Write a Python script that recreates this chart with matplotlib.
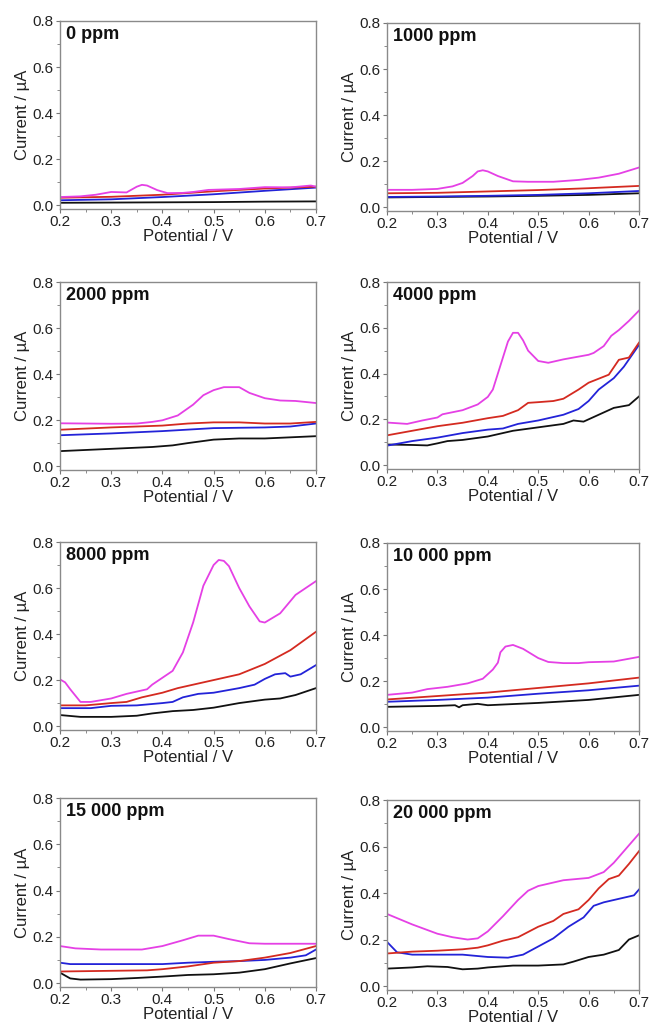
import matplotlib
matplotlib.use('Agg')
import matplotlib.pyplot as plt
from matplotlib.ticker import MultipleLocator

plt.rcParams['font.family'] = ['Liberation Sans', 'DejaVu Sans']

# (potential V, current uA) points for each scan in every panel
P0_BLACK = [(0.20, 0.010), (0.30, 0.011), (0.40, 0.012), (0.50, 0.013), (0.60, 0.015), (0.70, 0.016)]
P0_BLUE = [(0.20, 0.021), (0.30, 0.025), (0.40, 0.035), (0.50, 0.047), (0.60, 0.062), (0.70, 0.076)]
P0_RED = [(0.20, 0.032), (0.30, 0.036), (0.40, 0.045), (0.50, 0.060), (0.60, 0.072), (0.70, 0.080)]
P0_MAG = [(0.20, 0.035), (0.24, 0.038), (0.27, 0.045), (0.30, 0.057), (0.33, 0.055), (0.35, 0.080),
          (0.36, 0.088), (0.37, 0.085), (0.39, 0.065), (0.41, 0.052), (0.44, 0.053), (0.46, 0.057),
          (0.49, 0.066), (0.55, 0.070), (0.60, 0.078), (0.65, 0.077), (0.69, 0.085), (0.70, 0.080)]

P1000_BLACK = [(0.20, 0.042), (0.30, 0.044), (0.40, 0.046), (0.50, 0.049), (0.60, 0.053), (0.70, 0.060)]
P1000_BLUE = [(0.20, 0.044), (0.30, 0.046), (0.40, 0.049), (0.50, 0.053), (0.60, 0.060), (0.70, 0.070)]
P1000_RED = [(0.20, 0.060), (0.30, 0.062), (0.40, 0.068), (0.50, 0.074), (0.60, 0.082), (0.70, 0.092)]
P1000_MAG = [(0.20, 0.075), (0.25, 0.075), (0.30, 0.079), (0.33, 0.090), (0.35, 0.105), (0.37, 0.135),
             (0.38, 0.155), (0.39, 0.160), (0.40, 0.155), (0.42, 0.135), (0.45, 0.112), (0.48, 0.110),
             (0.53, 0.110), (0.58, 0.118), (0.62, 0.128), (0.66, 0.145), (0.70, 0.172)]

P2000_BLACK = [(0.20, 0.065), (0.30, 0.075), (0.38, 0.083), (0.42, 0.090), (0.45, 0.100), (0.50, 0.115),
               (0.55, 0.120), (0.60, 0.120), (0.65, 0.125), (0.70, 0.130)]
P2000_BLUE = [(0.20, 0.134), (0.30, 0.142), (0.40, 0.152), (0.50, 0.165), (0.60, 0.168), (0.65, 0.172),
              (0.70, 0.185)]
P2000_RED = [(0.20, 0.158), (0.30, 0.168), (0.40, 0.176), (0.45, 0.185), (0.50, 0.190), (0.55, 0.190),
             (0.60, 0.185), (0.65, 0.185), (0.70, 0.192)]
P2000_MAG = [(0.20, 0.186), (0.30, 0.184), (0.35, 0.185), (0.38, 0.192), (0.40, 0.199), (0.43, 0.220),
             (0.46, 0.267), (0.48, 0.308), (0.50, 0.330), (0.52, 0.343), (0.55, 0.343), (0.57, 0.318),
             (0.60, 0.295), (0.63, 0.285), (0.66, 0.283), (0.70, 0.274)]

P4000_BLACK = [(0.20, 0.090), (0.25, 0.088), (0.28, 0.086), (0.30, 0.095), (0.32, 0.105), (0.35, 0.110),
               (0.40, 0.125), (0.45, 0.150), (0.50, 0.165), (0.55, 0.180), (0.57, 0.195), (0.59, 0.190),
               (0.61, 0.210), (0.65, 0.250), (0.68, 0.262), (0.70, 0.300)]
P4000_BLUE = [(0.20, 0.085), (0.25, 0.105), (0.30, 0.120), (0.35, 0.140), (0.40, 0.155), (0.43, 0.160),
              (0.46, 0.180), (0.50, 0.195), (0.55, 0.220), (0.58, 0.245), (0.60, 0.280), (0.62, 0.330),
              (0.65, 0.380), (0.67, 0.430), (0.70, 0.525)]
P4000_RED = [(0.20, 0.130), (0.30, 0.170), (0.35, 0.185), (0.40, 0.205), (0.43, 0.215), (0.46, 0.240),
             (0.48, 0.272), (0.50, 0.275), (0.53, 0.280), (0.55, 0.290), (0.58, 0.330), (0.60, 0.360),
             (0.64, 0.395), (0.66, 0.460), (0.68, 0.470), (0.70, 0.535)]
P4000_MAG = [(0.20, 0.186), (0.24, 0.180), (0.27, 0.195), (0.30, 0.208), (0.31, 0.222), (0.35, 0.240),
             (0.38, 0.265), (0.40, 0.298), (0.41, 0.330), (0.42, 0.400), (0.43, 0.470), (0.44, 0.540),
             (0.45, 0.578), (0.46, 0.578), (0.47, 0.545), (0.48, 0.500), (0.50, 0.455), (0.52, 0.447),
             (0.55, 0.462), (0.60, 0.482), (0.61, 0.490), (0.63, 0.520), (0.645, 0.565), (0.66, 0.590),
             (0.68, 0.630), (0.70, 0.675)]

P8000_BLACK = [(0.20, 0.048), (0.24, 0.040), (0.30, 0.040), (0.35, 0.045), (0.38, 0.055), (0.42, 0.065),
               (0.46, 0.070), (0.50, 0.080), (0.55, 0.100), (0.60, 0.115), (0.63, 0.120), (0.66, 0.135),
               (0.70, 0.165)]
P8000_BLUE = [(0.20, 0.078), (0.26, 0.078), (0.30, 0.088), (0.35, 0.090), (0.40, 0.100), (0.42, 0.105),
              (0.44, 0.125), (0.47, 0.140), (0.50, 0.145), (0.55, 0.165), (0.58, 0.180), (0.60, 0.205),
              (0.62, 0.225), (0.64, 0.230), (0.65, 0.215), (0.67, 0.225), (0.70, 0.265)]
P8000_RED = [(0.20, 0.090), (0.25, 0.090), (0.30, 0.100), (0.33, 0.105), (0.36, 0.125), (0.40, 0.145),
             (0.43, 0.165), (0.46, 0.180), (0.50, 0.200), (0.55, 0.225), (0.60, 0.270), (0.65, 0.330),
             (0.70, 0.410)]
P8000_MAG = [(0.20, 0.203), (0.21, 0.190), (0.22, 0.160), (0.24, 0.105), (0.26, 0.105), (0.30, 0.120),
             (0.33, 0.140), (0.37, 0.160), (0.38, 0.180), (0.40, 0.210), (0.42, 0.240), (0.44, 0.320),
             (0.46, 0.450), (0.48, 0.610), (0.50, 0.700), (0.51, 0.722), (0.52, 0.718), (0.53, 0.695),
             (0.55, 0.600), (0.57, 0.520), (0.59, 0.455), (0.60, 0.450), (0.63, 0.490), (0.66, 0.570),
             (0.68, 0.600), (0.70, 0.630)]

P10000_BLACK = [(0.20, 0.088), (0.30, 0.092), (0.335, 0.095), (0.343, 0.086), (0.35, 0.095), (0.38, 0.101),
                (0.40, 0.095), (0.50, 0.105), (0.60, 0.118), (0.70, 0.140)]
P10000_BLUE = [(0.20, 0.110), (0.30, 0.118), (0.40, 0.128), (0.50, 0.145), (0.60, 0.160), (0.70, 0.180)]
P10000_RED = [(0.20, 0.120), (0.30, 0.135), (0.40, 0.150), (0.50, 0.170), (0.60, 0.190), (0.70, 0.215)]
P10000_MAG = [(0.20, 0.140), (0.25, 0.150), (0.28, 0.165), (0.32, 0.175), (0.36, 0.190), (0.39, 0.210),
              (0.41, 0.250), (0.42, 0.280), (0.425, 0.325), (0.435, 0.350), (0.45, 0.357), (0.47, 0.340),
              (0.50, 0.300), (0.52, 0.283), (0.55, 0.278), (0.58, 0.278), (0.60, 0.282), (0.65, 0.285),
              (0.70, 0.305)]

P15000_BLACK = [(0.20, 0.045), (0.22, 0.020), (0.24, 0.015), (0.30, 0.017), (0.35, 0.022), (0.40, 0.028),
                (0.45, 0.035), (0.50, 0.038), (0.55, 0.045), (0.60, 0.060), (0.65, 0.085), (0.70, 0.108)]
P15000_BLUE = [(0.20, 0.088), (0.22, 0.082), (0.30, 0.082), (0.40, 0.082), (0.45, 0.088), (0.50, 0.092),
               (0.55, 0.095), (0.60, 0.100), (0.65, 0.110), (0.68, 0.120), (0.70, 0.145)]
P15000_RED = [(0.20, 0.050), (0.30, 0.053), (0.37, 0.055), (0.40, 0.060), (0.45, 0.072), (0.50, 0.088),
              (0.55, 0.095), (0.60, 0.110), (0.65, 0.130), (0.70, 0.160)]
P15000_MAG = [(0.20, 0.160), (0.23, 0.150), (0.28, 0.145), (0.36, 0.145), (0.40, 0.160), (0.44, 0.185),
              (0.47, 0.205), (0.50, 0.205), (0.53, 0.190), (0.57, 0.172), (0.60, 0.170), (0.70, 0.170)]

P20000_BLACK = [(0.20, 0.075), (0.25, 0.080), (0.28, 0.085), (0.32, 0.082), (0.35, 0.072), (0.38, 0.075),
                (0.40, 0.080), (0.45, 0.088), (0.50, 0.088), (0.55, 0.093), (0.57, 0.105), (0.60, 0.125),
                (0.63, 0.135), (0.66, 0.155), (0.68, 0.200), (0.70, 0.218)]
P20000_BLUE = [(0.20, 0.190), (0.22, 0.145), (0.25, 0.135), (0.30, 0.135), (0.35, 0.135), (0.40, 0.125),
               (0.44, 0.122), (0.47, 0.135), (0.50, 0.170), (0.53, 0.205), (0.56, 0.255), (0.59, 0.295),
               (0.61, 0.345), (0.63, 0.360), (0.66, 0.375), (0.69, 0.390), (0.70, 0.415)]
P20000_RED = [(0.20, 0.140), (0.25, 0.148), (0.30, 0.152), (0.35, 0.158), (0.38, 0.165), (0.40, 0.175),
              (0.43, 0.195), (0.46, 0.210), (0.50, 0.255), (0.53, 0.280), (0.55, 0.310), (0.58, 0.330),
              (0.60, 0.370), (0.62, 0.420), (0.64, 0.460), (0.66, 0.475), (0.68, 0.525), (0.70, 0.580)]
P20000_MAG = [(0.20, 0.310), (0.25, 0.265), (0.30, 0.225), (0.33, 0.210), (0.36, 0.200), (0.38, 0.205),
              (0.40, 0.235), (0.43, 0.300), (0.46, 0.370), (0.48, 0.410), (0.50, 0.430), (0.55, 0.455),
              (0.60, 0.465), (0.63, 0.490), (0.65, 0.530), (0.70, 0.655)]

labels = ['0 ppm', '1000 ppm', '2000 ppm', '4000 ppm',
          '8000 ppm', '10 000 ppm', '15 000 ppm', '20 000 ppm']
panels = [
    [P0_BLACK, P0_BLUE, P0_RED, P0_MAG],
    [P1000_BLACK, P1000_BLUE, P1000_RED, P1000_MAG],
    [P2000_BLACK, P2000_BLUE, P2000_RED, P2000_MAG],
    [P4000_BLACK, P4000_BLUE, P4000_RED, P4000_MAG],
    [P8000_BLACK, P8000_BLUE, P8000_RED, P8000_MAG],
    [P10000_BLACK, P10000_BLUE, P10000_RED, P10000_MAG],
    [P15000_BLACK, P15000_BLUE, P15000_RED, P15000_MAG],
    [P20000_BLACK, P20000_BLUE, P20000_RED, P20000_MAG],
]
colors = ['#111111', '#2323d8', '#d42a20', '#e540e5']

W, H = 649, 1023
fig = plt.figure(figsize=(W / 100, H / 100), dpi=100)

# pixel boxes of the panels: left, right, top, bottom
col_x = [(60, 316), (387, 639)]
row_y = [[(21, 209), (282, 470), (542, 730), (798, 987)],
         [(23, 211), (282, 469), (543, 731), (800, 990)]]

for i, series in enumerate(panels):
    c, r = i % 2, i // 2
    x0, x1 = col_x[c]
    y0, y1 = row_y[c][r]
    ax = fig.add_axes([x0 / W, 1 - y1 / H, (x1 - x0) / W, (y1 - y0) / H])

    for pts, col in zip(series, colors):
        xs = [p[0] for p in pts]
        ys = [p[1] for p in pts]
        ax.plot(xs, ys, color=col, lw=1.3)

    ax.set_xlim(0.2, 0.7)
    ax.set_ylim(-0.017, 0.8)
    ax.xaxis.set_major_locator(MultipleLocator(0.1))
    ax.xaxis.set_minor_locator(MultipleLocator(0.05))
    ax.yaxis.set_major_locator(MultipleLocator(0.2))
    ax.yaxis.set_minor_locator(MultipleLocator(0.1))
    ax.xaxis.set_major_formatter(lambda v, p: f'{v:.1f}')
    ax.yaxis.set_major_formatter(lambda v, p: f'{v:.1f}')
    ax.tick_params(which='major', direction='out', length=3, width=0.8,
                   color='#777777', labelsize=11, labelcolor='#222222', pad=1.5)
    ax.tick_params(which='minor', direction='out', length=2, width=0.6, color='#777777')
    for s in ax.spines.values():
        s.set_color('#8a8a8a')
        s.set_linewidth(1.0)

    ax.set_xlabel('Potential / V', fontsize=12, color='#222222', labelpad=0)
    ax.set_ylabel('Current / µA', fontsize=12, color='#222222', labelpad=2)
    ax.text(0.025, 0.975, labels[i], transform=ax.transAxes, ha='left', va='top',
            fontsize=13, fontweight='bold', color='#111111')

fig.savefig('out.png', dpi=100)
